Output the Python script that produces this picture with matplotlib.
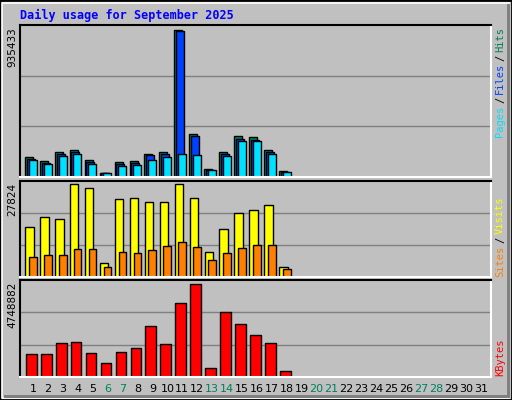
import matplotlib
matplotlib.use("Agg")
import matplotlib.pyplot as plt
import numpy as np
from matplotlib.patches import Rectangle

days = list(range(1, 32))
weekends = [6, 7, 13, 14, 20, 21, 27, 28]

# values for days 1..18 (rest of month empty)
hits = [124600, 99200, 156300, 168900, 105600, 23200, 92900, 99200, 143600, 156300,
        935433, 270300, 48600, 156300, 257600, 251300, 168900, 35900]
files = [111900, 86600, 143600, 156300, 92900, 23200, 80200, 86600, 137300, 143600,
         929100, 257600, 42200, 143600, 238600, 232300, 156300, 29600]
pages = [105600, 80200, 130900, 143600, 80200, 23200, 67600, 73900, 105600, 124600,
         143600, 137300, 42200, 130900, 225900, 225900, 143600, 29600]
visits = [15160, 18170, 17570, 27824, 26600, 4320, 23290, 23590, 22390, 22390,
          27824, 23590, 7630, 14560, 19080, 19980, 21480, 3110]
sites = [6120, 6730, 6730, 8530, 8530, 3110, 7630, 7330, 8230, 9440,
         10640, 9140, 5220, 7330, 8830, 9740, 9740, 2510]
kbytes = [1161200, 1161200, 1733200, 1785200, 1213200, 693300, 1265200, 1473200,
          2617100, 1681200, 3813000, 4748882, 485300, 3345100, 2721100, 2149200,
          1733200, 329300]

BG = "#C0C0C0"
GRID = "#808080"
HITS_C, FILES_C, PAGES_C = "#00805C", "#0040FF", "#00E0FF"
VISITS_C, SITES_C, KB_C = "#FFFF00", "#FF8000", "#FF0000"
MONO = "DejaVu Sans Mono"

W, H = 512, 400
fig = plt.figure(figsize=(W / 100, H / 100), dpi=100, facecolor=BG)

# outer 3D border
fig.patches.append(Rectangle((0, 0), 1, 1, transform=fig.transFigure,
                             fill=False, edgecolor="black", linewidth=2))
fig.patches.append(Rectangle((2 / W, 2 / H), 1 - 5 / W, 1 - 5 / H, transform=fig.transFigure,
                             fill=False, edgecolor="white", linewidth=1.2))
fig.patches.append(Rectangle((4 / W, 2 / H), 1 - 6 / W, 3 / H, transform=fig.transFigure,
                             facecolor="#808080", edgecolor="none"))
fig.patches.append(Rectangle((1 - 5 / W, 2 / H), 3 / W, 1 - 6 / H, transform=fig.transFigure,
                             facecolor="#808080", edgecolor="none"))

fig.text(20 / W, 1 - 15 / H, "Daily usage for September 2025", color="#0000FF",
         fontsize=8.5, fontweight="bold", family=MONO, va="center", ha="left")

x0, x1 = 20, 491
RFS = 7.5
CHAR = 0.602 * RFS * 100 / 72  # px per monospace char


def make_ax(top, bottom):
    ax = fig.add_axes([x0 / W, 1 - bottom / H, (x1 - x0) / W, (bottom - top) / H])
    ax.set_facecolor(BG)
    ax.set_xlim(1 - 13 / 15, 31 + 10 / 15)
    ax.set_xticks([])
    ax.set_yticks([])
    for s in ("top", "left"):
        ax.spines[s].set_color("black")
    for s in ("bottom", "right"):
        ax.spines[s].set_color("white")
    for s in ax.spines.values():
        s.set_linewidth(1.5)
    return ax


def grid(ax, top):
    ax.set_ylim(0, top)
    for f in (1 / 3, 2 / 3):
        ax.axhline(top * f, color=GRID, linewidth=1, zorder=0)


def side_label(start, parts):
    y = start
    for txt, c in parts:
        fig.text(500 / W, 1 - y / H, txt, rotation=90, color=c, fontsize=RFS,
                 family=MONO, va="bottom", ha="center")
        y -= len(txt) * CHAR + 2.5


d = np.arange(1, 19)

# top: hits / files / pages
ax1 = make_ax(25, 177)
grid(ax1, max(hits) / 0.97)
for vals, off, c in ((hits, -8 / 15, HITS_C), (files, -6.3 / 15, FILES_C), (pages, -4.3 / 15, PAGES_C)):
    ax1.bar(d + off, vals, width=8 / 15, align="edge", color=c, edgecolor="black", linewidth=1, zorder=2)
fig.text(12 / W, 1 - 27 / H, f"{max(hits)}", rotation=90, fontsize=7.5, va="top", ha="center")
side_label(137, (("Pages", PAGES_C), ("/", "black"), ("Files", FILES_C), ("/", "black"), ("Hits", HITS_C)))

# middle: visits / sites
ax2 = make_ax(181, 277)
grid(ax2, max(visits) / 0.965)
ax2.bar(d - 7.7 / 15, visits, width=8.4 / 15, align="edge", color=VISITS_C, edgecolor="black", linewidth=1, zorder=2)
ax2.bar(d - 4 / 15, sites, width=7.7 / 15, align="edge", color=SITES_C, edgecolor="black", linewidth=1, zorder=2)
fig.text(12 / W, 1 - 183 / H, f"{max(visits)}", rotation=90, fontsize=7.5, va="top", ha="center")
side_label(277, (("Sites", SITES_C), ("/", "black"), ("Visits", VISITS_C)))

# bottom: kbytes
ax3 = make_ax(280, 377)
grid(ax3, max(kbytes) / 0.955)
ax3.bar(d - 7 / 15, kbytes, width=10.7 / 15, align="edge", color=KB_C, edgecolor="black", linewidth=1, zorder=2)
fig.text(12 / W, 1 - 282 / H, f"{max(kbytes)}", rotation=90, fontsize=7.5, va="top", ha="center")
side_label(376, (("KBytes", KB_C),))

for day in days:
    xp = 33 + (day - 1) * 14.93
    fig.text(xp / W, 1 - 389 / H, str(day), fontsize=8,
             color=HITS_C if day in weekends else "black", ha="center", va="center")

fig.savefig("out.png", dpi=100, facecolor=BG)
